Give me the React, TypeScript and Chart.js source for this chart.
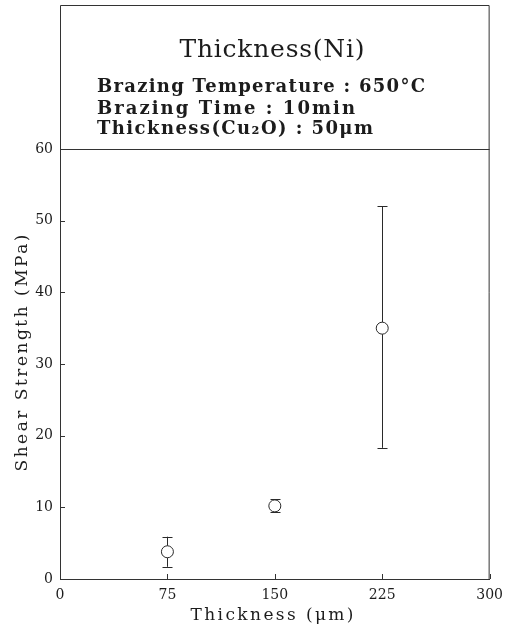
import React, { useEffect, useRef } from "react";
import { Chart, registerables } from "chart.js";

Chart.register(...registerables);

// ---- data ----
const thicknessUm = [75, 150, 225];
const shearMean = [3.8, 10.2, 35.0];
const shearLow = [1.7, 9.3, 18.3];
const shearHigh = [5.9, 11.1, 52.0];
const xTickValues = [0, 75, 150, 225, 300];
const yTickValues = [0, 10, 20, 30, 40, 50, 60];
const headerTitle = "Thickness(Ni)";
const headerLines = [
  "Brazing Temperature : 650°C",
  "Brazing Time : 10min",
  "Thickness(Cu\u2082O) : 50\u03BCm",
];
const xAxisTitle = "Thickness (\u03BCm)";
const yAxisTitle = "Shear Strength (MPa)";

const FONT = '"DejaVu Serif", "Liberation Serif", serif';
const INK = "#1c1c1c";

function drawFitted(
  ctx: CanvasRenderingContext2D,
  text: string,
  x: number,
  y: number,
  width: number,
  font: string,
  align: "left" | "center"
) {
  ctx.font = font;
  (ctx as any).letterSpacing = "0px";
  ctx.textAlign = "left";
  const w = ctx.measureText(text).width;
  const n = Array.from(text).length;
  const ls = n > 1 ? (width - w) / (n - 1) : 0;
  (ctx as any).letterSpacing = ls + "px";
  const startX = align === "center" ? x - width / 2 : x;
  ctx.fillText(text, startX, y);
  (ctx as any).letterSpacing = "0px";
}

const decorPlugin = {
  id: "decor",
  afterDraw(chart: any) {
    const ctx: CanvasRenderingContext2D = chart.ctx;
    const { left, right, top, bottom } = chart.chartArea;
    const xs = chart.scales.x;
    const ys = chart.scales.y;
    ctx.save();
    ctx.strokeStyle = "#333";
    ctx.lineWidth = 1;
    // plot frame + header box
    ctx.beginPath();
    ctx.moveTo(left + 0.5, 5.5);
    ctx.lineTo(right - 0.5, 5.5);
    ctx.lineTo(right - 0.5, bottom);
    ctx.moveTo(left + 0.5, 5.5);
    ctx.lineTo(left + 0.5, bottom);
    ctx.moveTo(left, top + 0.5);
    ctx.lineTo(right, top + 0.5);
    ctx.stroke();
    // inward ticks
    ctx.beginPath();
    for (const v of yTickValues) {
      const py = Math.round(ys.getPixelForValue(v)) + 0.5;
      ctx.moveTo(left, py);
      ctx.lineTo(left + 5, py);
    }
    for (const v of xTickValues) {
      const px = Math.round(xs.getPixelForValue(v)) + 0.5;
      ctx.moveTo(px, bottom);
      ctx.lineTo(px, bottom - 5);
    }
    ctx.stroke();

    // texts
    ctx.fillStyle = INK;
    ctx.textBaseline = "alphabetic";
    drawFitted(ctx, headerTitle, 272, 57, 185, `25px ${FONT}`, "center");
    const lineBase = [92, 114, 134];
    const lineWidth = [328, 258, 276];
    headerLines.forEach((t, i) => {
      drawFitted(ctx, t, 97, lineBase[i], lineWidth[i], `bold 18px ${FONT}`, "left");
    });
    drawFitted(ctx, xAxisTitle, 272, 620, 163, `17px ${FONT}`, "center");
    ctx.save();
    ctx.translate(27, 353);
    ctx.rotate(-Math.PI / 2);
    drawFitted(ctx, yAxisTitle, 0, 0, 237, `17px ${FONT}`, "center");
    ctx.restore();
    ctx.restore();
  },
  afterDatasetsDraw(chart: any) {
    const ctx: CanvasRenderingContext2D = chart.ctx;
    const xs = chart.scales.x;
    const ys = chart.scales.y;
    ctx.save();
    ctx.strokeStyle = "#2a2a2a";
    ctx.lineWidth = 1;
    thicknessUm.forEach((t, i) => {
      const px = Math.round(xs.getPixelForValue(t)) + 0.5;
      const pLo = ys.getPixelForValue(shearLow[i]);
      const pHi = ys.getPixelForValue(shearHigh[i]);
      const pM = ys.getPixelForValue(shearMean[i]);
      ctx.beginPath();
      ctx.moveTo(px, pHi);
      ctx.lineTo(px, pM - 6);
      ctx.moveTo(px, pM + 6);
      ctx.lineTo(px, pLo);
      ctx.moveTo(px - 5, Math.round(pHi) + 0.5);
      ctx.lineTo(px + 5, Math.round(pHi) + 0.5);
      ctx.moveTo(px - 5, Math.round(pLo) + 0.5);
      ctx.lineTo(px + 5, Math.round(pLo) + 0.5);
      ctx.stroke();
    });
    ctx.restore();
  },
};

export default function App() {
  const ref = useRef<HTMLCanvasElement | null>(null);
  useEffect(() => {
    if (!ref.current) return;
    const chart = new Chart(ref.current, {
      type: "scatter",
      data: {
        datasets: [
          {
            label: "Shear strength",
            data: thicknessUm.map((x, i) => ({ x, y: shearMean[i] })),
            pointStyle: "circle",
            pointRadius: 6,
            pointBorderWidth: 1,
            pointBorderColor: "#2a2a2a",
            pointBackgroundColor: "rgba(255,255,255,0)",
            showLine: false,
          },
        ],
      },
      options: {
        responsive: false,
        animation: false,
        events: [],
        layout: { padding: { top: 149, right: 17, left: 0, bottom: 0 } },
        plugins: {
          legend: { display: false },
          title: { display: false },
          tooltip: { enabled: false },
        },
        scales: {
          x: {
            type: "linear",
            min: 0,
            max: 300,
            afterBuildTicks: (s: any) => {
              s.ticks = xTickValues.map((v) => ({ value: v }));
            },
            afterFit: (s: any) => {
              s.height = 49;
            },
            grid: { display: false, drawTicks: false },
            border: { display: true, color: "#333", width: 1 },
            ticks: {
              padding: 8,
              color: INK,
              font: { family: FONT, size: 14 },
              maxRotation: 0,
            },
          },
          y: {
            type: "linear",
            min: 0,
            max: 60,
            afterBuildTicks: (s: any) => {
              s.ticks = yTickValues.map((v) => ({ value: v }));
            },
            afterFit: (s: any) => {
              s.width = 60;
            },
            grid: { display: false, drawTicks: false },
            border: { display: true, color: "#333", width: 1 },
            ticks: {
              padding: 7,
              color: INK,
              font: { family: FONT, size: 14 },
            },
          },
        },
      },
      plugins: [decorPlugin],
    });
    return () => chart.destroy();
  }, []);
  return (
    <div style={{ position: "absolute", left: 0, top: 0, width: 511, height: 628, background: "#fff" }}>
      <canvas ref={ref} width={511} height={628} style={{ display: "block" }} />
    </div>
  );
}
